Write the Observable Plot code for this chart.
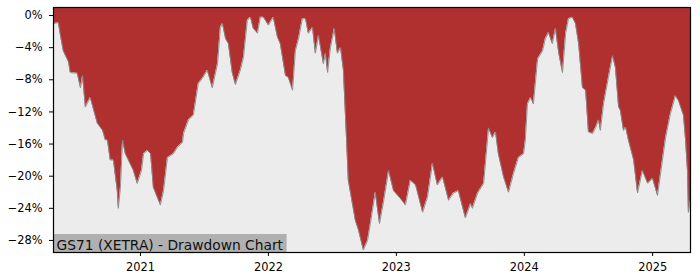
<!DOCTYPE html>
<html>
<head>
<meta charset="utf-8">
<script src="https://cdn.jsdelivr.net/npm/d3@7"></script>
<script src="https://cdn.jsdelivr.net/npm/@observablehq/plot@0.6"></script>
<style>
  html, body { margin: 0; padding: 0; background: #fff; }
  #chart { width: 700px; height: 280px; }
</style>
</head>
<body>
<div id="chart"></div>
<script>
const title = "GS71 (XETRA) - Drawdown Chart";

const dates = [
  "2020-04-28","2020-05-12","2020-05-18","2020-05-26","2020-06-10","2020-06-15","2020-07-05","2020-07-14",
  "2020-07-20","2020-07-28","2020-08-11","2020-08-31","2020-09-15","2020-09-23","2020-09-29","2020-10-07",
  "2020-10-16","2020-10-27","2020-10-30","2020-11-05","2020-11-11","2020-11-19","2020-12-12","2020-12-23",
  "2021-01-04","2021-01-10","2021-01-21","2021-01-30","2021-02-07","2021-02-27","2021-03-08","2021-03-19",
  "2021-04-05","2021-04-17","2021-05-01","2021-05-04","2021-05-18","2021-06-01","2021-06-15","2021-06-27",
  "2021-07-11","2021-07-25","2021-08-09","2021-08-17","2021-08-23","2021-09-01","2021-09-09","2021-09-20",
  "2021-09-29","2021-10-13","2021-10-22","2021-11-02","2021-11-11","2021-11-19","2021-12-01","2021-12-09",
  "2021-12-18","2022-01-01","2022-01-15","2022-01-27","2022-02-04","2022-02-19","2022-02-27","2022-03-11",
  "2022-03-19","2022-03-28","2022-04-08","2022-04-17","2022-04-25","2022-05-07","2022-05-15","2022-05-24",
  "2022-06-07","2022-06-13","2022-06-19","2022-06-27","2022-07-08","2022-07-17","2022-07-26","2022-08-03",
  "2022-08-12","2022-08-17","2022-09-06","2022-09-15","2022-09-29","2022-10-11","2022-10-19","2022-11-02",
  "2022-11-14","2022-11-25","2022-12-10","2022-12-24","2023-01-13","2023-01-27","2023-02-10","2023-02-25",
  "2023-03-17","2023-03-31","2023-04-14","2023-04-28","2023-05-13","2023-05-30","2023-06-13","2023-06-27",
  "2023-07-17","2023-08-01","2023-08-06","2023-08-21","2023-09-07","2023-09-18","2023-09-21","2023-10-02",
  "2023-10-11","2023-10-19","2023-11-03","2023-11-17","2023-12-01","2023-12-15","2023-12-30","2024-01-04",
  "2024-01-10","2024-01-19","2024-01-27","2024-02-08","2024-02-22","2024-03-01","2024-03-10","2024-03-21",
  "2024-03-30","2024-04-08","2024-04-19","2024-04-28","2024-05-06","2024-05-17","2024-05-26","2024-06-04",
  "2024-06-15","2024-06-24","2024-07-02","2024-07-14","2024-07-22","2024-07-31","2024-08-05","2024-08-14",
  "2024-08-28","2024-09-09","2024-09-17","2024-09-26","2024-10-01","2024-10-10","2024-10-16","2024-10-24",
  "2024-11-08","2024-11-19","2024-12-03","2024-12-18","2025-01-01","2025-01-15","2025-01-29","2025-02-07",
  "2025-02-21","2025-03-07","2025-03-16","2025-03-30","2025-04-05","2025-04-11","2025-04-13","2025-04-19"
];

const drawdown = [
  -1.0,-0.9,-2.5,-4.4,-5.8,-7.1,-7.2,-9.0,
  -7.5,-11.4,-10.2,-13.4,-14.3,-15.5,-15.5,-18.0,
  -18.0,-21.8,-24.0,-21.4,-15.5,-17.2,-19.3,-20.9,
  -19.3,-17.2,-16.8,-17.2,-21.4,-23.6,-21.8,-17.7,
  -17.2,-16.4,-15.8,-14.7,-13.0,-12.4,-8.5,-7.8,
  -6.8,-9.0,-6.0,-1.5,-1.0,-2.9,-3.5,-7.1,
  -8.6,-6.8,-5.2,-0.6,-0.2,-1.6,-2.2,-0.2,
  -0.2,-1.2,-0.2,-2.7,-3.5,-7.5,-7.7,-9.3,
  -4.4,-2.9,-0.4,-0.4,-2.2,-1.5,-4.7,-2.5,
  -6.0,-4.7,-7.1,-4.0,-1.6,-4.7,-4.0,-6.8,
  -15.5,-20.5,-25.5,-26.7,-29.2,-28.0,-25.9,-22.0,
  -25.9,-23.3,-19.3,-21.8,-22.8,-23.6,-20.5,-21.1,
  -24.5,-22.6,-18.4,-21.1,-20.1,-23.0,-22.1,-21.8,
  -25.2,-23.4,-24.0,-22.1,-20.9,-15.5,-14.0,-15.2,
  -14.5,-17.2,-20.1,-22.0,-19.7,-17.7,-17.2,-15.5,
  -11.0,-10.2,-11.0,-5.4,-4.4,-2.9,-2.1,-3.5,
  -1.6,-4.6,-7.1,-2.2,-0.4,-0.2,-1.0,-3.5,
  -9.0,-9.3,-14.5,-14.7,-14.0,-13.0,-14.3,-11.0,
  -7.7,-5.0,-6.5,-11.4,-11.8,-14.3,-13.9,-15.5,
  -18.0,-22.1,-19.3,-20.9,-20.3,-22.4,-18.0,-15.2,
  -12.2,-10.0,-10.6,-12.4,-15.5,-19.7,-24.5,-23.0
];

const yTicks = [0, -4, -8, -12, -16, -20, -24, -28];
const xTicks = ["2021-01-01","2022-01-01","2023-01-01","2024-01-01","2025-01-01"];
const yDomain = [-29.5, 1.0];

const parse = d3.utcParse("%Y-%m-%d");
const data = dates.map((d, i) => ({date: parse(d), dd: drawdown[i]}));
const xDomain = [data[0].date, data[data.length - 1].date];

const fmtPct = v => v === 0 ? "0%" : "\u2212" + Math.abs(v) + "%";

const chart = Plot.plot({
  width: 700,
  height: 280,
  marginLeft: 53,
  marginRight: 10,
  marginTop: 7,
  marginBottom: 28,
  style: {fontFamily: "DejaVu Sans", fontSize: "11.4px", color: "#000", background: "#fff"},
  x: {type: "utc", domain: xDomain, label: null},
  y: {domain: yDomain, label: null},
  marks: [
    Plot.frame({fill: "#ececec", stroke: null}),
    Plot.areaY(data, {x: "date", y1: "dd", y2: yDomain[1], fill: "#b03030", curve: "linear"}),
    Plot.lineY(data, {x: "date", y: "dd", stroke: "#8a8a8a", strokeWidth: 0.9, curve: "linear"}),
    Plot.axisY(yTicks, {tickSize: 4, tickPadding: 7, tickFormat: fmtPct, fontSize: 11.4, stroke: "#000", strokeWidth: 1}),
    Plot.axisX(xTicks.map(parse), {tickSize: 4, tickPadding: 6, tickFormat: d3.utcFormat("%Y"), fontSize: 11.4, stroke: "#000", strokeWidth: 1}),
    Plot.text([title], {text: d => d, frameAnchor: "bottom-left", dx: 3, dy: -3, textAnchor: "start", fontSize: 13.8, fill: "#111", className: "dd-title"}),
    Plot.frame({stroke: "#000", strokeWidth: 1.2})
  ]
});

document.getElementById("chart").appendChild(chart);

// grey label box behind the title text
const t = chart.querySelector(".dd-title text");
if (t) {
  const sb = chart.getBoundingClientRect();
  const tb = t.getBoundingClientRect();
  const ns = "http://www.w3.org/2000/svg";
  const r = document.createElementNS(ns, "rect");
  const left = 53, bottom = 280 - 28;
  const top = tb.top - sb.top - 2.5;
  const right = tb.right - sb.left + 3;
  r.setAttribute("x", left);
  r.setAttribute("y", top);
  r.setAttribute("width", right - left);
  r.setAttribute("height", bottom - top);
  r.setAttribute("fill", "#b0b0b0");
  const g = chart.querySelector(".dd-title");
  g.parentNode.insertBefore(r, g);
}
</script>
</body>
</html>
